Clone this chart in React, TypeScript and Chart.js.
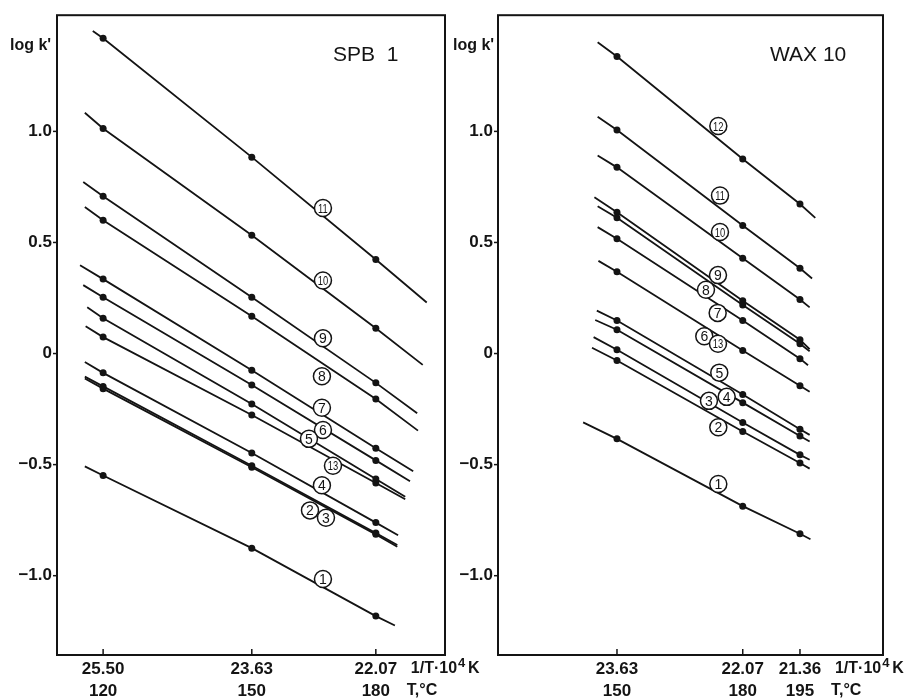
import { useEffect, useRef } from "react";
import { Chart, registerables } from "chart.js";
Chart.register(...registerables);

// ---------- shared axis data ----------
const yTickValues = [-1.0, -0.5, 0, 0.5, 1.0];
const yTickLabels = ["\u22121.0", "\u22120.5", "0", "0.5", "1.0"];

// ---------- SPB 1 panel ----------
const spbXTicks = [25.5, 23.63, 22.07];
const spbXTickLabels = ["25.50", "23.63", "22.07"];
const spbTempLabels = ["120", "150", "180"];
const spbSeriesIds = ["1", "2", "3", "4", "5", "6", "7", "8", "9", "10", "11", "13"];
const spbValues: number[][] = [
  [-0.549, -0.876, -1.182],
  [-0.148, -0.505, -0.808],
  [-0.158, -0.512, -0.814],
  [-0.087, -0.448, -0.761],
  [0.159, -0.227, -0.565],
  [0.253, -0.142, -0.481],
  [0.335, -0.075, -0.426],
  [0.6, 0.168, -0.205],
  [0.708, 0.253, -0.132],
  [1.013, 0.532, 0.114],
  [1.419, 0.884, 0.423],
  [0.074, -0.277, -0.583],
];
const spbLineStart: number[][] = [
  [25.73, -0.508], [25.73, -0.104], [25.73, -0.112], [25.73, -0.038],
  [25.7, 0.208], [25.75, 0.308], [25.79, 0.397], [25.73, 0.66],
  [25.75, 0.772], [25.73, 1.084], [25.63, 1.452], [25.72, 0.123],
];
const spbLineEnd: number[][] = [
  [21.83, -1.224], [21.8, -0.862], [21.8, -0.87], [21.79, -0.818],
  [21.7, -0.645], [21.64, -0.575], [21.6, -0.53], [21.54, -0.347],
  [21.55, -0.269], [21.48, -0.051], [21.43, 0.23], [21.7, -0.656],
];
const spbLabelIds = ["11", "10", "9", "8", "7", "6", "5", "13", "4", "2", "3", "1"];
const spbLabelPos: number[][] = [
  [22.735, 0.655], [22.735, 0.329], [22.735, 0.069], [22.748, -0.102],
  [22.748, -0.244], [22.735, -0.344], [22.911, -0.384], [22.609, -0.505],
  [22.748, -0.593], [22.898, -0.706], [22.697, -0.739], [22.735, -1.015],
];

// ---------- WAX 10 panel ----------
const waxXTicks = [23.63, 22.07, 21.36];
const waxXTickLabels = ["23.63", "22.07", "21.36"];
const waxTempLabels = ["150", "180", "195"];
const waxSeriesIds = ["1", "2", "3", "4", "5", "6", "7", "8", "9", "10", "11", "12"];
const waxValues: number[][] = [
  [-0.384, -0.687, -0.811],
  [-0.031, -0.351, -0.493],
  [0.017, -0.31, -0.456],
  [0.107, -0.221, -0.371],
  [0.149, -0.184, -0.341],
  [0.368, 0.014, -0.145],
  [0.517, 0.149, -0.023],
  [0.611, 0.218, 0.044],
  [0.636, 0.238, 0.062],
  [0.838, 0.429, 0.243],
  [1.006, 0.576, 0.384],
  [1.337, 0.876, 0.673],
];
const waxLineStart: number[][] = [
  [24.05, -0.31], [23.94, 0.026], [23.92, 0.074], [23.9, 0.151],
  [23.88, 0.193], [23.86, 0.417], [23.87, 0.569], [23.87, 0.663],
  [23.91, 0.703], [23.87, 0.891], [23.87, 1.066], [23.87, 1.401],
];
const waxLineEnd: number[][] = [
  [21.23, -0.836], [21.24, -0.518], [21.24, -0.478], [21.24, -0.396],
  [21.24, -0.366], [21.24, -0.172], [21.26, -0.053], [21.24, 0.01],
  [21.24, 0.02], [21.24, 0.208], [21.21, 0.338], [21.17, 0.611],
];
const waxLabelIds = ["12", "11", "10", "9", "8", "7", "6", "13", "5", "4", "3", "2", "1"];
const waxLabelPos: number[][] = [
  [22.373, 1.024], [22.352, 0.711], [22.352, 0.547], [22.377, 0.353],
  [22.526, 0.287], [22.381, 0.183], [22.547, 0.078], [22.377, 0.044],
  [22.361, -0.086], [22.269, -0.195], [22.489, -0.213], [22.373, -0.332],
  [22.373, -0.587],
];

const INK = "#141414";
const FONT = '"Liberation Sans", Arial, sans-serif';

type Panel = {
  title: string;
  xTicks: number[];
  xTickLabels: string[];
  tempLabels: string[];
  ids: string[];
  values: number[][];
  starts: number[][];
  ends: number[][];
  labelIds: string[];
  labelPos: number[][];
  xMin: number;
  xMax: number;
  padLeft: number;
  padRight: number;
  yAxisWidth: number;
  titleDx: number;
  logkDx: number;
};

const panels: Panel[] = [
  {
    title: "SPB  1",
    xTicks: spbXTicks,
    xTickLabels: spbXTickLabels,
    tempLabels: spbTempLabels,
    ids: spbSeriesIds,
    values: spbValues,
    starts: spbLineStart,
    ends: spbLineEnd,
    labelIds: spbLabelIds,
    labelPos: spbLabelPos,
    xMin: 21.2,
    xMax: 26.08,
    padLeft: 0,
    padRight: 478,
    yAxisWidth: 57,
    titleDx: 276,
    logkDx: -47,
  },
  {
    title: "WAX 10",
    xTicks: waxXTicks,
    xTickLabels: waxXTickLabels,
    tempLabels: waxTempLabels,
    ids: waxSeriesIds,
    values: waxValues,
    starts: waxLineStart,
    ends: waxLineEnd,
    labelIds: waxLabelIds,
    labelPos: waxLabelPos,
    xMin: 20.33,
    xMax: 25.106,
    padLeft: 440,
    padRight: 40,
    yAxisWidth: 58,
    titleDx: 272,
    logkDx: -45,
  },
];

function makePlugin(p: Panel) {
  return {
    id: "decor",
    afterDraw(chart: any) {
      const { ctx, chartArea: a, scales } = chart;
      const xs = scales.x;
      const ys = scales.y;
      ctx.save();
      // frame
      ctx.strokeStyle = INK;
      ctx.lineWidth = 2;
      ctx.strokeRect(a.left, a.top, a.right - a.left, a.bottom - a.top);
      // ticks
      ctx.lineWidth = 1.5;
      yTickValues.forEach((v) => {
        const y = ys.getPixelForValue(v);
        ctx.beginPath();
        ctx.moveTo(a.left - 4, y);
        ctx.lineTo(a.left, y);
        ctx.stroke();
      });
      p.xTicks.forEach((v) => {
        const x = xs.getPixelForValue(v);
        ctx.beginPath();
        ctx.moveTo(x, a.bottom);
        ctx.lineTo(x, a.bottom - 6);
        ctx.stroke();
      });
      // circled labels
      p.labelIds.forEach((id, i) => {
        const px = xs.getPixelForValue(p.labelPos[i][0]);
        const py = ys.getPixelForValue(p.labelPos[i][1]);
        ctx.beginPath();
        ctx.arc(px, py, 8.5, 0, Math.PI * 2);
        ctx.fillStyle = "#fff";
        ctx.fill();
        ctx.lineWidth = 1.5;
        ctx.strokeStyle = INK;
        ctx.stroke();
        ctx.fillStyle = INK;
        ctx.textAlign = "center";
        ctx.textBaseline = "middle";
        ctx.save();
        ctx.translate(px, py + 1);
        if (id.length > 1) {
          ctx.scale(0.72, 1);
          ctx.font = `13px ${FONT}`;
        } else {
          ctx.font = `14px ${FONT}`;
        }
        ctx.fillText(id, 0, 0);
        ctx.restore();
      });
      // titles
      ctx.fillStyle = INK;
      ctx.textAlign = "left";
      ctx.textBaseline = "middle";
      ctx.font = `21px ${FONT}`;
      ctx.fillText(p.title, a.left + p.titleDx, a.top + 40);
      ctx.font = `bold 16px ${FONT}`;
      ctx.fillText("log k'", a.left + p.logkDx, a.top + 30);
      // unit labels
      const lastX = xs.getPixelForValue(p.xTicks[p.xTicks.length - 1]);
      const ux = lastX + 35;
      const uy = a.bottom + 14;
      ctx.font = `bold 16px ${FONT}`;
      const s1 = "1/T\u00b710";
      ctx.fillText(s1, ux, uy);
      const w1 = ctx.measureText(s1).width;
      ctx.font = `bold 13px ${FONT}`;
      ctx.fillText("4", ux + w1 + 1, uy - 6);
      ctx.font = `bold 16px ${FONT}`;
      ctx.fillText("K", ux + w1 + 11, uy);
      ctx.fillText("T,\u00b0C", lastX + 31, a.bottom + 36);
      ctx.restore();
    },
  };
}

function makeConfig(p: Panel): any {
  const datasets = p.ids.map((id, i) => ({
    label: id,
    data: [
      { x: p.starts[i][0], y: p.starts[i][1] },
      ...p.values[i].map((v, j) => ({ x: p.xTicks[j], y: v })),
      { x: p.ends[i][0], y: p.ends[i][1] },
    ],
    showLine: true,
    borderColor: INK,
    borderWidth: 1.8,
    backgroundColor: INK,
    pointBackgroundColor: INK,
    pointBorderWidth: 0,
    pointRadius: (c: any) =>
      c.dataIndex === 0 || c.dataIndex === c.dataset.data.length - 1 ? 0 : 3.5,
    tension: 0,
  }));
  return {
    type: "scatter",
    data: { datasets },
    options: {
      animation: false,
      responsive: false,
      events: [],
      layout: { padding: { left: p.padLeft, right: p.padRight, top: 11, bottom: 0 } },
      plugins: { legend: { display: false }, tooltip: { enabled: false } },
      scales: {
        x: {
          type: "linear",
          reverse: true,
          min: p.xMin,
          max: p.xMax,
          grid: { display: false, drawTicks: false, tickLength: 0 },
          border: { display: false },
          afterBuildTicks: (ax: any) => {
            ax.ticks = p.xTicks.map((v) => ({ value: v }));
          },
          afterFit: (ax: any) => {
            ax.height = 45;
          },
          ticks: {
            autoSkip: false,
            maxRotation: 0,
            padding: 3,
            color: INK,
            font: { family: FONT, size: 17, weight: "bold", lineHeight: 1.3 },
            callback: (_v: any, i: number) => [p.xTickLabels[i], p.tempLabels[i]],
          },
        },
        y: {
          type: "linear",
          min: -1.357,
          max: 1.523,
          grid: { display: false, drawTicks: false, tickLength: 0 },
          border: { display: false },
          afterBuildTicks: (ax: any) => {
            ax.ticks = yTickValues.map((v) => ({ value: v }));
          },
          afterFit: (ax: any) => {
            ax.width = p.yAxisWidth;
          },
          ticks: {
            autoSkip: false,
            padding: 5,
            color: INK,
            font: { family: FONT, size: 17, weight: "bold" },
            callback: (_v: any, i: number) => yTickLabels[i],
          },
        },
      },
    },
    plugins: [makePlugin(p)],
  };
}

function PanelCanvas({ panel }: { panel: Panel }) {
  const ref = useRef<HTMLCanvasElement>(null);
  useEffect(() => {
    if (!ref.current) return;
    const chart = new Chart(ref.current, makeConfig(panel));
    return () => chart.destroy();
  }, [panel]);
  return (
    <canvas
      ref={ref}
      width={923}
      height={700}
      style={{ position: "absolute", left: 0, top: 0, width: 923, height: 700 }}
    />
  );
}

export default function App() {
  return (
    <div style={{ position: "absolute", left: 0, top: 0, width: 923, height: 700, background: "#fff" }}>
      {panels.map((p) => (
        <PanelCanvas key={p.title} panel={p} />
      ))}
    </div>
  );
}
